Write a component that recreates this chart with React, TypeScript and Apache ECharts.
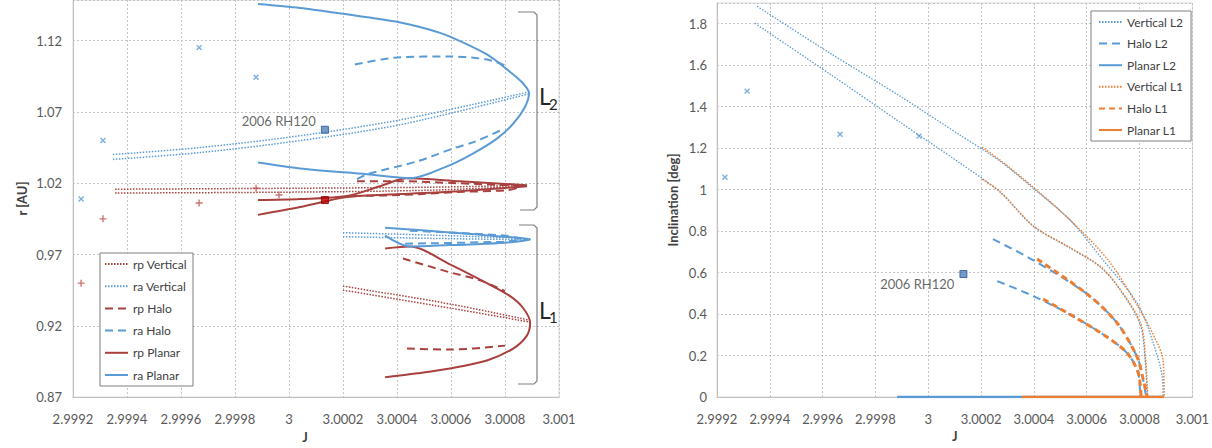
import React, { useEffect, useRef } from "react";
import * as echarts from "echarts";

// ---------- tick labels ----------
const xTickLabels = ["2.9992", "2.9994", "2.9996", "2.9998", "3", "3.0002", "3.0004", "3.0006", "3.0008", "3.001"];
const leftYTickLabels = ["0.87", "0.92", "0.97", "1.02", "1.07", "1.12"];
const rightYTickLabels = ["0", "0.2", "0.4", "0.6", "0.8", "1", "1.2", "1.4", "1.6", "1.8"];

const leftLegendNames = ["rp Vertical", "ra Vertical", "rp Halo", "ra Halo", "rp Planar", "ra Planar"];
const rightLegendNames = ["Vertical L2", "Halo L2", "Planar L2", "Vertical L1", "Halo L1", "Planar L1"];

// ---------- left chart: [J, r (AU)] ----------
const raPlanarL2 = [[2.999885, 1.1457], [3.000041, 1.1429], [3.0002, 1.1388], [3.0004, 1.1332], [3.000522, 1.1276], [3.000596, 1.1228], [3.000733, 1.1103], [3.000807, 1.0999], [3.000863, 1.0908], [3.000889, 1.0832], [3.000874, 1.0735], [3.00083, 1.0617], [3.00077, 1.0513], [3.000681, 1.0408], [3.000585, 1.0318], [3.000448, 1.0235], [3.000289, 1.0263], [3.000041, 1.0304], [2.999885, 1.0346]];
const raHaloL2a = [[3.000244, 1.1033], [3.0004, 1.1082], [3.000596, 1.1089], [3.000733, 1.1068], [3.0008, 1.1026]];
const raHaloL2b = [[3.000252, 1.0228], [3.000289, 1.0263], [3.000474, 1.0353], [3.000607, 1.0443], [3.000689, 1.0492], [3.000781, 1.0568]];
const raVertL2a = [[2.999348, 1.0401], [2.99967, 1.045], [3.000041, 1.0533], [3.000411, 1.0644], [3.000885, 1.0839]];
const raVertL2b = [[2.999348, 1.0367], [2.99967, 1.0415], [3.000041, 1.0499], [3.000411, 1.061], [3.000885, 1.0825]];
const rpVertL2a = [[2.999356, 1.0158], [3.000041, 1.0165], [3.000522, 1.0172], [3.000881, 1.0186]];
const rpVertL2b = [[2.999356, 1.0131], [3.000041, 1.0138], [3.000522, 1.0151], [3.000881, 1.0179]];
const rpHaloL2a = [[3.000252, 1.0214], [3.000411, 1.0214], [3.000622, 1.02], [3.000807, 1.0186], [3.000856, 1.0179]];
const rpHaloL2b = [[3.000237, 1.011], [3.000411, 1.0117], [3.000622, 1.0138], [3.000807, 1.0151], [3.000856, 1.0172]];
const rpPlanarL2a = [[2.999885, 1.0082], [3.000041, 1.0089], [3.000215, 1.011], [3.000337, 1.0179], [3.000437, 1.0235], [3.000633, 1.0214], [3.000881, 1.0186]];
const rpPlanarL2b = [[2.999885, 0.9978], [3.000041, 1.0033], [3.000215, 1.0103], [3.000411, 1.0124], [3.000633, 1.0144], [3.000881, 1.0179]];

const raPlanarL1 = [[3.000356, 0.9888], [3.000596, 0.9855], [3.000781, 0.9827], [3.000893, 0.9806], [3.000781, 0.978], [3.000596, 0.9766], [3.000448, 0.9756], [3.000356, 0.9832]];
const raVertL1a = [[3.0002, 0.9853], [3.000596, 0.9832], [3.000893, 0.9811]];
const raVertL1b = [[3.0002, 0.9825], [3.000596, 0.9811], [3.000893, 0.9804]];
const raHaloL1a = [[3.000448, 0.9867], [3.000807, 0.9832], [3.000856, 0.9811]];
const raHaloL1b = [[3.00043, 0.9776], [3.000793, 0.979], [3.000856, 0.9804]];
const rpPlanarL1 = [[3.000356, 0.9742], [3.000448, 0.9756], [3.000596, 0.9631], [3.000733, 0.9499], [3.000819, 0.9408], [3.000867, 0.9325], [3.000893, 0.9221], [3.000881, 0.9131], [3.00083, 0.904], [3.000733, 0.8957], [3.000596, 0.8901], [3.000474, 0.8867], [3.000356, 0.8839]];
const rpHaloL1a = [[3.000422, 0.9672], [3.000596, 0.9575], [3.000707, 0.9519], [3.0008, 0.9443]];
const rpHaloL1b = [[3.000437, 0.904], [3.000596, 0.9033], [3.0008, 0.9061]];
const rpVertL1a = [[3.0002, 0.9478], [3.000596, 0.9353], [3.000885, 0.9242]];
const rpVertL1b = [[3.0002, 0.945], [3.000596, 0.9325], [3.000885, 0.9228]];

const leftCrossPts = [[2.99923, 1.0089], [2.999311, 1.0499], [2.999667, 1.1151], [2.999878, 1.0943]];
const leftPlusPts = [[2.99923, 0.9499], [2.999311, 0.995], [2.999667, 1.0061], [2.999878, 1.0165], [2.999963, 1.0117]];

const rh120J = 3.000133;
const rh120Ra = 1.0575;
const rh120Rp = 1.0082;
const rh120Inc = 0.593;
const rh120Label = "2006 RH120";

// ---------- right chart: [J, inclination (deg)] ----------
const vertL2a = [[2.999352, 1.884], [2.999628, 1.658], [2.999893, 1.451], [3.00012, 1.263], [3.000272, 1.137], [3.000397, 1.007], [3.000537, 0.853], [3.000662, 0.66], [3.000791, 0.453], [3.000852, 0.26], [3.000886, 0.096], [3.000889, 0]];
const vertL2b = [[2.999344, 1.802], [2.999628, 1.557], [2.999893, 1.325], [3.00012, 1.128], [3.000272, 0.988], [3.000397, 0.824], [3.000537, 0.718], [3.000651, 0.627], [3.000727, 0.516], [3.000802, 0.352], [3.000821, 0.178], [3.000829, 0]];
const vertL1a = [[3.000204, 1.205], [3.000272, 1.142], [3.000397, 1.012], [3.000537, 0.853], [3.000681, 0.66], [3.000802, 0.419], [3.000867, 0.26], [3.000889, 0.178], [3.000893, 0]];
const vertL1b = [[3.000204, 1.051], [3.000272, 0.99], [3.000397, 0.826], [3.000537, 0.72], [3.000651, 0.63], [3.000727, 0.518], [3.000805, 0.352], [3.000823, 0.178], [3.000831, 0]];
const haloL2a = [[3.000245, 0.761], [3.000397, 0.66], [3.000602, 0.496], [3.000715, 0.357], [3.000791, 0.193], [3.00081, 0.106], [3.000825, 0]];
const haloL2b = [[3.000261, 0.559], [3.000397, 0.487], [3.000548, 0.39], [3.000677, 0.289], [3.000753, 0.212], [3.000795, 0.116], [3.000802, 0]];
const haloL1a = [[3.000412, 0.665], [3.000602, 0.496], [3.000715, 0.357], [3.000791, 0.193], [3.00081, 0.106], [3.000829, 0]];
const haloL1b = [[3.000435, 0.472], [3.000548, 0.39], [3.000677, 0.289], [3.000753, 0.212], [3.000795, 0.116], [3.000806, 0]];
const planarL2 = [[2.999882, 0], [3.000889, 0]];
const planarL1 = [[3.000355, 0], [3.000893, 0]];
const rightCrossPts = [[2.99923, 1.06], [2.999314, 1.475], [2.999666, 1.267], [2.999965, 1.258]];

// ---------- styling ----------
const BLUE = "#5B9BD5";
const RED = "#A8413E";
const ORANGE = "#ED7D31";
const FONT = "Lato";
const TXT = "#595959";
const PLUS = "path://M4,0H6V4H10V6H6V10H4V6H0V4H4Z";

const tx = (j: number) => (j - 3) * 10000;
const tyL = (r: number) => (r - 0.87) * 100;
const tyR = (v: number) => v;

type Kind = "dot" | "dash" | "solid" | "dashThick";
function line(name: string, data: number[][], idx: number, color: string, kind: Kind, width?: number) {
  const ty = idx === 0 ? tyL : tyR;
  let type: any = "solid";
  let w = width ?? 2;
  if (kind === "dot") { type = [1.5, 1.5]; w = width ?? 1.5; }
  if (kind === "dash") { type = [8, 5]; w = width ?? 2; }
  if (kind === "dashThick") { type = [6, 4]; w = width ?? 3; }
  return {
    type: "line",
    name,
    xAxisIndex: idx,
    yAxisIndex: idx,
    data: data.map(([j, v]) => [tx(j), ty(v)]),
    symbol: "none",
    smooth: 0.3,
    silent: true,
    lineStyle: { color, width: w, type },
    itemStyle: { color },
    z: 2,
  };
}

const gridLine = { show: true, lineStyle: { color: "#c4c4c4", type: [2, 2], width: 1 } };

function makeXAxis(idx: number, nameGap: number, namePad: number[]) {
  return {
    type: "value",
    gridIndex: idx,
    min: -8,
    max: 10,
    interval: 2,
    name: "J",
    nameLocation: "middle",
    nameGap,
    nameTextStyle: { fontWeight: "bold", fontSize: 13, color: "#404040", fontFamily: FONT, padding: namePad },
    axisLine: { show: true, onZero: false, lineStyle: { color: "#bfbfbf", width: 1 } },
    axisTick: { show: false },
    axisLabel: {
      color: TXT,
      fontSize: 13,
      fontFamily: FONT,
      margin: 15,
      formatter: (v: number) => {
        const i = Math.round((v + 8) / 2);
        return xTickLabels[i] ?? "";
      },
    },
    splitLine: gridLine,
  };
}

export default function App() {
  const ref = useRef<HTMLDivElement>(null);
  useEffect(() => {
    document.body.style.margin = "0";
    if (!ref.current) return;
    const chart = echarts.init(ref.current, undefined, { renderer: "svg" });

    const series: any[] = [
      // left chart
      line("rp Vertical", rpVertL2a, 0, RED, "dot"),
      line("rp Vertical", rpVertL2b, 0, RED, "dot"),
      line("rp Vertical", rpVertL1a, 0, RED, "dot"),
      line("rp Vertical", rpVertL1b, 0, RED, "dot"),
      line("ra Vertical", raVertL2a, 0, BLUE, "dot"),
      line("ra Vertical", raVertL2b, 0, BLUE, "dot"),
      line("ra Vertical", raVertL1a, 0, BLUE, "dot"),
      line("ra Vertical", raVertL1b, 0, BLUE, "dot"),
      line("rp Halo", rpHaloL2a, 0, RED, "dash"),
      line("rp Halo", rpHaloL2b, 0, RED, "dash"),
      line("rp Halo", rpHaloL1a, 0, RED, "dash"),
      line("rp Halo", rpHaloL1b, 0, RED, "dash"),
      line("ra Halo", raHaloL2a, 0, BLUE, "dash"),
      line("ra Halo", raHaloL2b, 0, BLUE, "dash"),
      line("ra Halo", raHaloL1a, 0, BLUE, "dash"),
      line("ra Halo", raHaloL1b, 0, BLUE, "dash"),
      line("rp Planar", rpPlanarL2a, 0, RED, "solid"),
      line("rp Planar", rpPlanarL2b, 0, RED, "solid"),
      line("rp Planar", rpPlanarL1, 0, RED, "solid"),
      line("ra Planar", raPlanarL2, 0, BLUE, "solid"),
      line("ra Planar", raPlanarL1, 0, BLUE, "solid"),
      {
        type: "scatter", name: "neo-x", xAxisIndex: 0, yAxisIndex: 0, silent: true, z: 3,
        data: leftCrossPts.map(([j, r]) => [tx(j), tyL(r)]),
        symbol: PLUS, symbolSize: 7, symbolRotate: 45, itemStyle: { color: BLUE },
      },
      {
        type: "scatter", name: "neo-plus", xAxisIndex: 0, yAxisIndex: 0, silent: true, z: 3,
        data: leftPlusPts.map(([j, r]) => [tx(j), tyL(r)]),
        symbol: PLUS, symbolSize: 7, itemStyle: { color: "#C0504D" },
      },
      {
        type: "scatter", name: "rh120-ra", xAxisIndex: 0, yAxisIndex: 0, silent: true, z: 4,
        data: [[tx(rh120J), tyL(rh120Ra)]],
        symbol: "rect", symbolSize: 7,
        itemStyle: { color: "#4F81BD", borderColor: "#2F528F", borderWidth: 1 },
        label: { show: true, position: "left", formatter: rh120Label, offset: [0, -9], color: "#404040", fontSize: 13, fontFamily: FONT },
      },
      {
        type: "scatter", name: "rh120-rp", xAxisIndex: 0, yAxisIndex: 0, silent: true, z: 4,
        data: [[tx(rh120J), tyL(rh120Rp)]],
        symbol: "rect", symbolSize: 7,
        itemStyle: { color: "#C00000", borderColor: "#7f0000", borderWidth: 1 },
      },
      // right chart
      line("Vertical L2", vertL2a, 1, BLUE, "dot", 1.3),
      line("Vertical L2", vertL2b, 1, BLUE, "dot", 1.3),
      line("Halo L2", haloL2a, 1, BLUE, "dash", 2),
      line("Halo L2", haloL2b, 1, BLUE, "dash", 2),
      line("Planar L2", planarL2, 1, BLUE, "solid", 2.5),
      line("Vertical L1", vertL1a, 1, ORANGE, "dot", 1.5),
      line("Vertical L1", vertL1b, 1, ORANGE, "dot", 1.5),
      line("Halo L1", haloL1a, 1, ORANGE, "dashThick"),
      line("Halo L1", haloL1b, 1, ORANGE, "dashThick"),
      line("Planar L1", planarL1, 1, ORANGE, "solid", 2.5),
      {
        type: "scatter", name: "neo-x-r", xAxisIndex: 1, yAxisIndex: 1, silent: true, z: 3,
        data: rightCrossPts.map(([j, v]) => [tx(j), v]),
        symbol: PLUS, symbolSize: 7, symbolRotate: 45, itemStyle: { color: BLUE },
      },
      {
        type: "scatter", name: "rh120-inc", xAxisIndex: 1, yAxisIndex: 1, silent: true, z: 4,
        data: [[tx(rh120J), rh120Inc]],
        symbol: "rect", symbolSize: 7,
        itemStyle: { color: "#4F81BD", borderColor: "#2F528F", borderWidth: 1 },
        label: { show: true, position: "left", formatter: rh120Label, offset: [0, 10], color: "#404040", fontSize: 13, fontFamily: FONT },
      },
    ];

    const bracket = (pts: number[][]) => ({
      type: "polyline",
      shape: { points: pts },
      style: { stroke: "#7f7f7f", lineWidth: 1.2, fill: null },
      z: 10,
      silent: true,
    });
    const txt = (x: number, y: number, t: string, size: number) => ({
      type: "text",
      x, y,
      style: { text: t, fontSize: size, fontFamily: FONT, fill: "#262626", align: "left", verticalAlign: "middle" },
      z: 10,
      silent: true,
    });

    const legendBase = {
      orient: "vertical",
      itemWidth: 23,
      itemHeight: 14,
      backgroundColor: "#ffffff",
      borderColor: "#7f7f7f",
      borderWidth: 1,
      borderRadius: 0,
      itemStyle: { opacity: 0 },
      textStyle: { color: "#404040", fontSize: 12, fontFamily: FONT },
      selectedMode: false,
      z: 20,
    };

    chart.setOption({
      animation: false,
      backgroundColor: "#ffffff",
      textStyle: { fontFamily: FONT },
      grid: [
        { left: 73, right: 653, top: 0, bottom: 47, show: true, borderColor: "#d9d9d9", borderWidth: 1 },
        { left: 717, right: 19, top: 3, bottom: 51, show: true, borderColor: "#d9d9d9", borderWidth: 1 },
      ],
      xAxis: [makeXAxis(0, 28, [0, 22, 0, 0]), makeXAxis(1, 32, [0, 0, 0, 0])],
      yAxis: [
        {
          type: "value",
          gridIndex: 0,
          min: 0,
          max: 27.85,
          interval: 5,
          name: "r [AU]",
          nameLocation: "middle",
          nameGap: 45,
          nameTextStyle: { fontWeight: "bold", fontSize: 13, color: "#404040", fontFamily: FONT },
          axisLine: { show: true, onZero: false, lineStyle: { color: "#bfbfbf" } },
          axisTick: { show: false },
          axisLabel: {
            color: TXT, fontSize: 13, fontFamily: FONT, margin: 11, showMaxLabel: false,
            formatter: (v: number) => leftYTickLabels[Math.round(v / 5)] ?? "",
          },
          splitLine: gridLine,
        },
        {
          type: "value",
          gridIndex: 1,
          min: 0,
          max: 1.9,
          interval: 0.2,
          name: "Inclination [deg]",
          nameLocation: "middle",
          nameGap: 38,
          nameTextStyle: { fontWeight: "bold", fontSize: 13, color: "#404040", fontFamily: FONT },
          axisLine: { show: true, onZero: false, lineStyle: { color: "#bfbfbf" } },
          axisTick: { show: false },
          axisLabel: {
            color: TXT, fontSize: 13, fontFamily: FONT, margin: 10, showMaxLabel: false,
            formatter: (v: number) => rightYTickLabels[Math.round(v / 0.2)] ?? "",
          },
          splitLine: gridLine,
        },
      ],
      legend: [
        { ...legendBase, data: leftLegendNames, left: 100, top: 253, itemGap: 10.2, padding: [5, 6, 5, 4] },
        { ...legendBase, data: rightLegendNames, left: 1091, top: 11, itemGap: 9.6, padding: [5, 8, 5, 7] },
      ],
      graphic: [
        bracket([[518, 12], [534, 12], [537, 15], [537, 207], [534, 210], [520, 210]]),
        bracket([[519, 225], [534, 225], [537, 228], [537, 381], [534, 384], [518, 384]]),
        txt(539, 96, "L", 23),
        txt(549, 104, "2", 15),
        txt(539, 310, "L", 23),
        txt(549, 317, "1", 15),
      ],
      series,
    });
    return () => chart.dispose();
  }, []);
  return <div ref={ref} style={{ width: 1212, height: 448 }} />;
}
